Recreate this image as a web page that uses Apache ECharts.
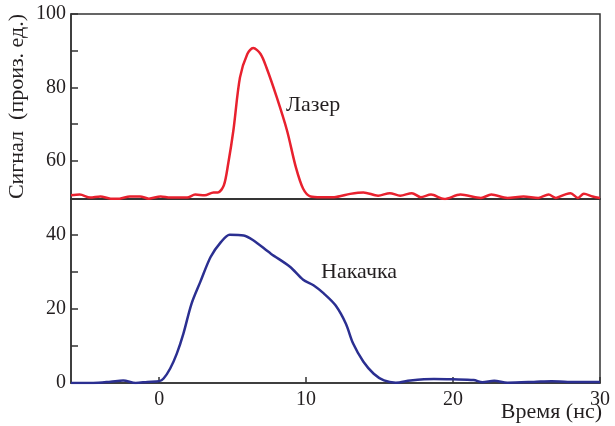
<!DOCTYPE html>
<html>
<head>
<meta charset="utf-8">
<script src="https://cdn.jsdelivr.net/npm/echarts@6/dist/echarts.min.js"></script>
<style>
	html, body { margin: 0; padding: 0; background: #fff; }
	#chart { width: 615px; height: 426px; }
</style>
</head>
<body>
<div id="chart"></div>
<script>
// Лазер (верхняя панель)
const laserT = [-6, -5.4, -4.7, -4.0, -3.3, -2.7, -2.0, -1.3, -0.7, 0.1, 0.75, 1.9, 2.45, 3.1, 3.7, 4.0, 4.4, 4.7, 5.05, 5.5, 6.0, 6.4, 6.9, 7.3, 8.0, 8.7, 9.3, 9.8, 10.3, 11.0, 11.9, 13.0, 13.9, 14.9, 15.7, 16.4, 17.2, 17.8, 18.5, 19.4, 20.5, 21.9, 22.6, 23.7, 24.8, 25.8, 26.5, 27.0, 27.6, 28.0, 28.5, 28.9, 29.5, 30];
const laserV = [50.5, 50.7, 49.9, 50.2, 49.6, 49.6, 50.2, 50.2, 49.6, 50.2, 49.9, 49.9, 50.7, 50.5, 51.3, 51.3, 53.2, 59.2, 68.2, 82.7, 89.1, 90.7, 89.1, 85.4, 77.3, 68.2, 58.2, 52.3, 50.2, 50.0, 50.0, 50.9, 51.3, 50.4, 51.1, 50.4, 51.1, 50.0, 50.7, 49.5, 50.7, 49.8, 50.7, 49.8, 50.2, 49.8, 50.7, 49.8, 50.7, 51.1, 49.8, 50.9, 50.2, 49.8];

// Накачка (нижняя панель)
const pumpT = [-6, -4.5, -3.3, -2.45, -1.6, -0.8, 0, 0.3, 0.75, 1.2, 1.65, 2.2, 2.8, 3.5, 4.2, 4.8, 5.75, 6.4, 7.6, 8.9, 9.8, 10.5, 11.2, 12.0, 12.7, 13.2, 13.9, 14.6, 15.3, 16.1, 17.1, 18.7, 20.0, 21.4, 22.0, 22.8, 23.7, 25.5, 26.7, 27.8, 29.2, 30];
const pumpV = [0, 0, 0.35, 0.7, 0, 0.3, 0.5, 1.2, 3.9, 7.9, 13.3, 21.3, 27.2, 33.9, 37.9, 39.9, 39.7, 38.4, 34.8, 31.3, 27.8, 26.3, 24.1, 20.9, 16.0, 10.6, 5.7, 2.5, 0.7, 0.1, 0.7, 1.1, 1.0, 0.8, 0.2, 0.6, 0.1, 0.3, 0.5, 0.3, 0.3, 0.3];

const xTicks = [0, 10, 20, 30];
const topLabels = [60, 80, 100];
const topTicks = [60, 70, 80, 90, 100];
const bottomLabels = [0, 20, 40];
const bottomTicks = [0, 10, 20, 30, 40];

const pairs = (t, v) => t.map((x, i) => [x, v[i]]);

const FONT = 'Liberation Serif';
const INK = '#231f20';
const FRAME = '#333';

const labelStyle = { color: INK, fontFamily: FONT, fontSize: 20 };
const axisLine = { show: true, onZero: false, lineStyle: { color: FRAME, width: 1.5 } };

const chart = echarts.init(document.getElementById('chart'));
chart.setOption({
	animation: false,
	backgroundColor: '#fff',
	grid: [
		{ left: 71, right: 15, top: 14, height: 185, outerBoundsMode: 'none', show: true, borderColor: FRAME, borderWidth: 1.5 },
		{ left: 71, right: 15, top: 199, height: 184, outerBoundsMode: 'none', show: true, borderColor: FRAME, borderWidth: 1.5 },
	],
	xAxis: [
		{
			gridIndex: 0, type: 'value', min: -6, max: 30,
			axisLine,
			axisTick: { show: false },
			axisLabel: { show: false },
			splitLine: { show: false },
		},
		{
			gridIndex: 1, type: 'value', min: -6, max: 30,
			axisLine,
			axisTick: { show: true, inside: true, length: 6, customValues: xTicks, lineStyle: { color: FRAME, width: 1.5 } },
			axisLabel: Object.assign({ customValues: xTicks, margin: 7 }, labelStyle),
			splitLine: { show: false },
		},
	],
	yAxis: [
		{
			gridIndex: 0, type: 'value', min: 49.5, max: 100,
			name: 'Сигнал  (произ. ед.)',
			nameLocation: 'middle',
			nameGap: 43,
			nameMoveOverlap: false,
			nameTextStyle: { color: INK, fontFamily: FONT, fontSize: 22 },
			axisLine,
			axisTick: { show: true, inside: true, length: 7, customValues: topTicks, lineStyle: { color: FRAME, width: 1.5 } },
			axisLabel: Object.assign({ customValues: topLabels, margin: 5 }, labelStyle),
			splitLine: { show: false },
		},
		{
			gridIndex: 1, type: 'value', min: 0, max: 49.5,
			axisLine,
			axisTick: { show: true, inside: true, length: 7, customValues: bottomTicks, lineStyle: { color: FRAME, width: 1.5 } },
			axisLabel: Object.assign({ customValues: bottomLabels, margin: 5 }, labelStyle),
			splitLine: { show: false },
		},
	],
	series: [
		{
			name: 'Лазер', type: 'line', xAxisIndex: 0, yAxisIndex: 0,
			data: pairs(laserT, laserV), smooth: 0.3, showSymbol: false,
			lineStyle: { color: '#e8212e', width: 2.5 },
		},
		{
			name: 'Накачка', type: 'line', xAxisIndex: 1, yAxisIndex: 1,
			data: pairs(pumpT, pumpV), smooth: 0.3, showSymbol: false,
			lineStyle: { color: '#2b2f91', width: 2.5 },
		},
	],
	graphic: [
		{ type: 'text', left: 286, top: 94, style: { text: 'Лазер', fill: INK, font: `22px "${FONT}"` } },
		{ type: 'text', left: 321, top: 261, style: { text: 'Накачка', fill: INK, font: `22px "${FONT}"` } },
		{ type: 'text', right: 13, top: 401, style: { text: 'Время (нс)', fill: INK, font: `22px "${FONT}"` } },
	],
});
</script>
</body>
</html>
